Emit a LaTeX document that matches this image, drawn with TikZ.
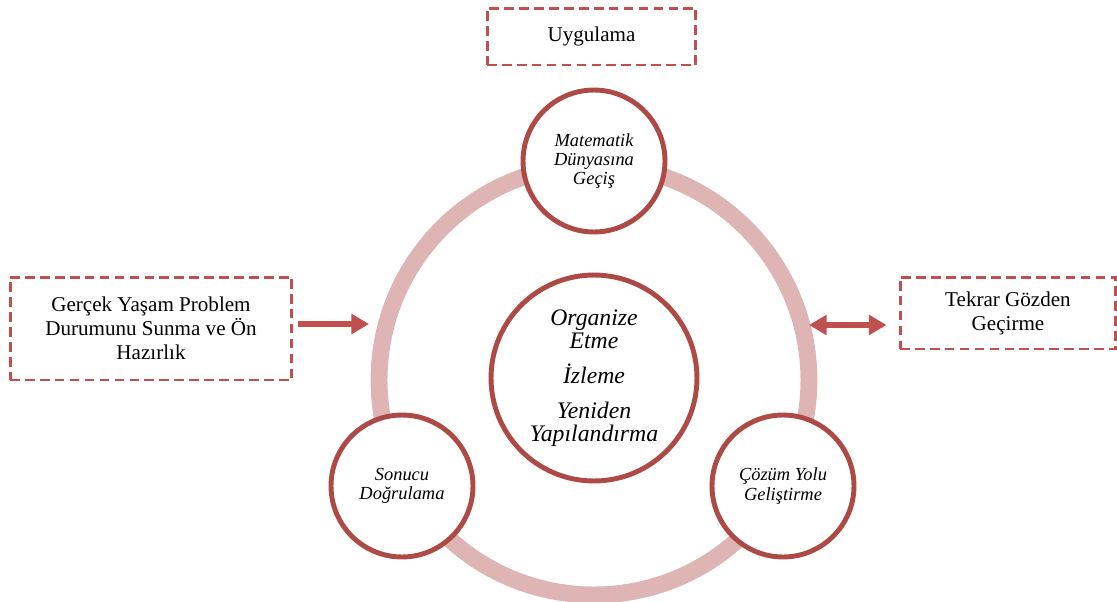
\documentclass[tikz,border=0pt]{standalone}
\usepackage{fontspec}
\setmainfont{Liberation Serif}
\usetikzlibrary{arrows.meta}
\definecolor{ringpink}{HTML}{DEB4B4}
\definecolor{circred}{HTML}{AE4A46}
\definecolor{boxred}{HTML}{C0504D}
\tikzset{
  stagebox/.style={draw=boxred, line width=1.7pt, dash pattern=on 5.5pt off 3pt,
    align=center, font=\fontsize{12}{13.6}\selectfont, inner sep=0pt},
  phase/.style={circle, draw=circred, line width=2.8pt, fill=white,
    minimum size=2.84cm, align=center, inner sep=0pt,
    font=\fontsize{10.5}{11}\selectfont\itshape},
  bigarrow/.style={boxred, line width=3.4pt, -{Triangle[length=10pt,width=11pt]}}
}
\begin{document}
\begin{tikzpicture}[x=0.02cm, y=-0.02cm]
    \useasboundingbox (0,0) rectangle (1117,602);
    % ring behind the phases
    \draw[ringpink, line width=9.6pt] (594,380) circle[radius=4.3cm];
    \node[phase] (top) at (594,161) {Matematik\\Dünyasına\\Geçiş};
    \node[phase] (left) at (402,486) {Sonucu\\Doğrulama};
    \node[phase] (right) at (783,486) {Çözüm Yolu\\Geliştirme};
    \node[phase, minimum size=4.12cm, font=\fontsize{13.5}{13}\selectfont\itshape] (mid) at (594,378)
        {Organize\\Etme\\[7pt]İzleme\\[7pt]Yeniden\\Yapılandırma};
    % dashed boxes
    \node[stagebox, minimum width=4.18cm, minimum height=1.14cm] (apply) at (591.5,36.5) {Uygulama};
    \node[stagebox, minimum width=5.64cm, minimum height=2.06cm] (start) at (151,328.5)
        {Gerçek Yaşam Problem\\Durumunu Sunma ve Ön\\Hazırlık};
    \node[stagebox, minimum width=4.32cm, minimum height=1.44cm] (review) at (1008,313)
        {Tekrar Gözden\\Geçirme};
    \coordinate (ringW) at (369,324);
    \coordinate (ringE) at (809,325);
    \draw[bigarrow, shorten <=0.1cm] (start.east |- ringW) -- (ringW);
    \draw[bigarrow, {Triangle[length=10pt,width=11pt]}-{Triangle[length=10pt,width=11pt]}, shorten >=0.24cm] (ringE) -- (review.west |- ringE);
\end{tikzpicture}
\end{document}
